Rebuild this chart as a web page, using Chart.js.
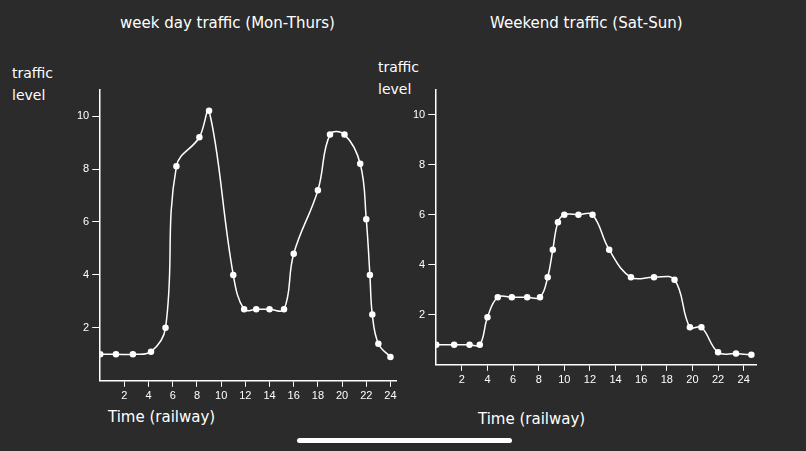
<!DOCTYPE html>
<html>
<head>
<script src="https://cdn.jsdelivr.net/npm/chart.js@4"></script>
<style>
  body { margin:0; background:#2b2b2b; width:806px; height:451px; overflow:hidden; font-family:"DejaVu Sans", sans-serif; color:#fff; }
  .box { position:absolute; }
  .t { position:absolute; color:#fff; font-size:14px; white-space:nowrap; }
  #bar { position:absolute; left:297px; top:438px; width:215px; height:5px; border-radius:3px; background:#fff; }
</style>
</head>
<body>
<div class="t" style="left:120px;top:14px;font-size:15px">week day traffic (Mon-Thurs)</div>
<div class="t" style="left:490px;top:14px;font-size:15px">Weekend traffic (Sat-Sun)</div>
<div class="t" style="left:12px;top:62px;line-height:22px">traffic<br>level</div>
<div class="t" style="left:378px;top:56px;line-height:22px">traffic<br>level</div>
<div class="t" style="left:108px;top:408px;font-size:15px">Time (railway)</div>
<div class="t" style="left:478px;top:410px;font-size:15px">Time (railway)</div>
<div class="box" style="left:74px;top:80px;width:328px;height:326px"><canvas id="c1"></canvas></div>
<div class="box" style="left:410px;top:80px;width:352px;height:310px"><canvas id="c2"></canvas></div>
<div id="bar"></div>
<script>
var weekdayX = [0, 1.3, 2.7, 4.2, 5.4, 6.3, 8.2, 9, 11, 11.9, 12.9, 14, 15.2, 16, 18, 19, 20.2, 21.5, 22, 22.3, 22.5, 23, 24];
var weekdayY = [1.0, 1.0, 1.0, 1.1, 2.0, 8.1, 9.2, 10.2, 4.0, 2.7, 2.7, 2.7, 2.7, 4.8, 7.2, 9.3, 9.3, 8.2, 6.1, 4.0, 2.5, 1.4, 0.9];
var weekendX = [0, 1.4, 2.6, 3.4, 4, 4.8, 5.9, 7.1, 8.1, 8.7, 9.1, 9.5, 10, 11.1, 12.2, 13.5, 15.2, 17, 18.6, 19.8, 20.7, 22, 23.4, 24.6];
var weekendY = [0.8, 0.8, 0.8, 0.8, 1.9, 2.7, 2.7, 2.7, 2.7, 3.5, 4.6, 5.7, 6.0, 6.0, 6.0, 4.6, 3.5, 3.5, 3.4, 1.5, 1.5, 0.5, 0.45, 0.4];
var xTicks = [2, 4, 6, 8, 10, 12, 14, 16, 18, 20, 22, 24];
var yTicks = [2, 4, 6, 8, 10];

function pts(xs, ys) { return xs.map(function (x, i) { return { x: x, y: ys[i] }; }); }

function make(id, xs, ys, xmax) {
  new Chart(document.getElementById(id), {
    type: 'line',
    data: { datasets: [{ data: pts(xs, ys), borderColor: '#fff', backgroundColor: '#fff',
      borderWidth: 1.5, pointRadius: 2.5, tension: 0.4 }] },
    options: {
      responsive: true, maintainAspectRatio: false, animation: false,
      plugins: { legend: { display: false }, tooltip: { enabled: false } },
      scales: {
        x: { type: 'linear', min: 0, max: xmax,
          afterBuildTicks: function (a) { a.ticks = xTicks.map(function (v) { return { value: v }; }); },
          ticks: { color: '#fff', font: { size: 11 } },
          grid: { drawOnChartArea: false, color: '#fff', tickLength: 6 },
          border: { color: '#fff', width: 1.5 } },
        y: { min: 0, max: 11,
          afterBuildTicks: function (a) { a.ticks = yTicks.map(function (v) { return { value: v }; }); },
          ticks: { color: '#fff', font: { size: 11 } },
          grid: { drawOnChartArea: false, color: '#fff', tickLength: 8 },
          border: { color: '#fff', width: 1.5 } }
      }
    }
  });
}
make('c1', weekdayX, weekdayY, 24.5);
make('c2', weekendX, weekendY, 25);
</script>
</body>
</html>
